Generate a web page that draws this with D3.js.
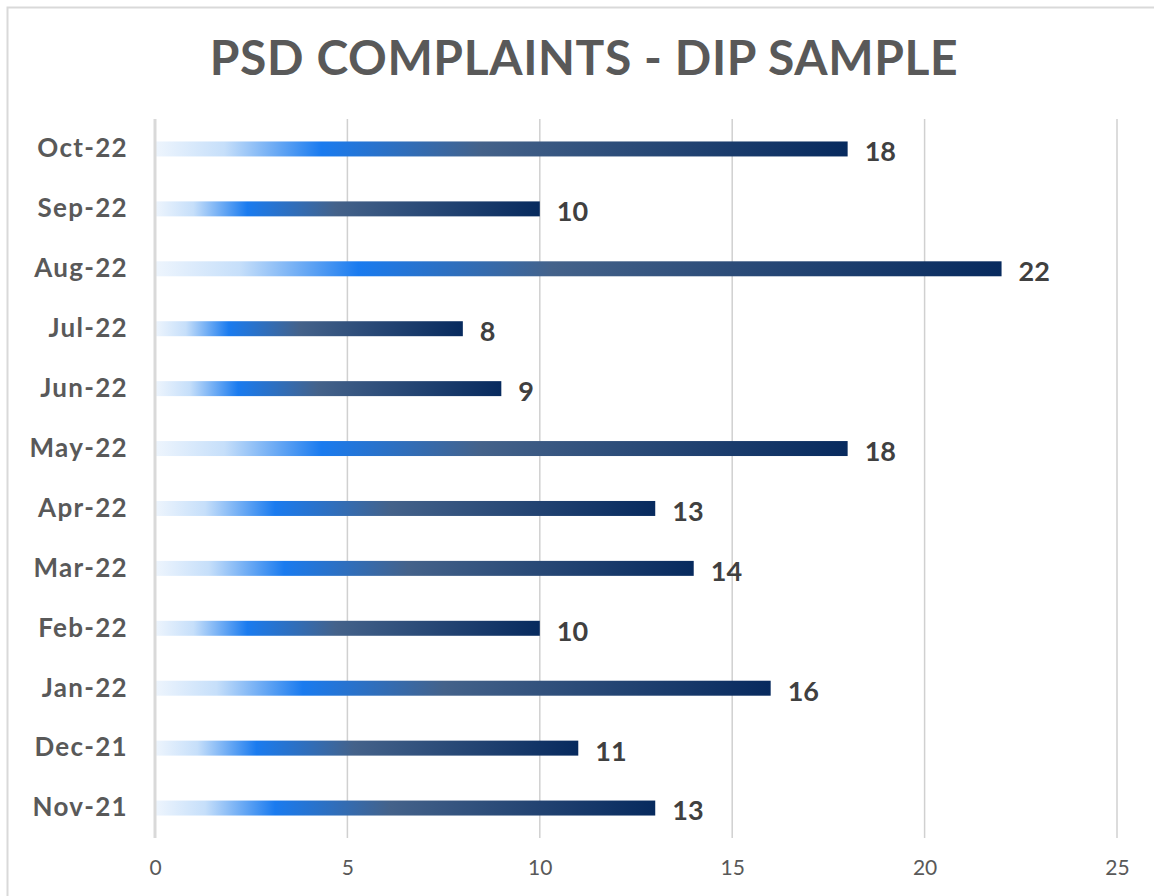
<!DOCTYPE html>
<html>
<head>
<meta charset="utf-8">
<script src="https://cdn.jsdelivr.net/npm/d3@7"></script>
<style>
  body { margin: 0; background: #fff; }
</style>
</head>
<body>
<div id="chart"></div>
<script>
// -------------------- DATA --------------------
const months = ["Oct-22", "Sep-22", "Aug-22", "Jul-22", "Jun-22", "May-22",
                "Apr-22", "Mar-22", "Feb-22", "Jan-22", "Dec-21", "Nov-21"];
const complaints = [18, 10, 22, 8, 9, 18, 13, 14, 10, 16, 11, 13];
const xTicks = [0, 5, 10, 15, 20, 25];
const title = "PSD COMPLAINTS - DIP SAMPLE";

// -------------------- CHART --------------------
const width = 1154, height = 896;
const margin = { top: 119, right: 37, bottom: 58, left: 155 };
const fontFamily = "Lato, 'Open Sans', sans-serif";

const data = months.map((m, i) => ({ name: m, value: complaints[i] }));

const svg = d3.select("#chart")
    .append("svg")
    .attr("width", width)
    .attr("height", height)
    .attr("viewBox", [0, 0, width, height]);

// chart frame (only top and left edges are in view)
svg.append("path")
    .attr("d", `M7.5,${height} V7.5 H${width}`)
    .attr("fill", "none")
    .attr("stroke", "#d9d9d9")
    .attr("stroke-width", 2);

svg.append("text")
    .attr("x", 584)
    .attr("y", 75)
    .attr("text-anchor", "middle")
    .attr("font-family", fontFamily)
    .attr("font-weight", "bold")
    .attr("font-size", 48)
    .attr("letter-spacing", 0.6)
    .attr("fill", "#595959")
    .text(title);

let x = d3.scaleLinear()
    .domain([0, 25])
    .range([margin.left, width - margin.right]);
let y = d3.scaleBand()
    .domain(months)
    .range([margin.top, height - margin.bottom])
    .paddingInner(0.75)
    .paddingOuter(0.375);

// gradient, stops relative to each bar's length
const defs = svg.append("defs");
const grad = defs.append("linearGradient")
    .attr("id", "barGrad")
    .attr("x1", "0%").attr("x2", "100%")
    .attr("y1", "0%").attr("y2", "0%");
[[0, "#eef5fd"], [0.1, "#c6dffa"], [0.24, "#1a7bef"], [0.47, "#44628a"], [1, "#072a5e"]]
    .forEach(([o, c]) => grad.append("stop").attr("offset", o).attr("stop-color", c));

// gridlines
svg.append("g")
    .selectAll("line")
    .data(xTicks.slice(1))
    .join("line")
    .attr("x1", d => x(d)).attr("x2", d => x(d))
    .attr("y1", margin.top).attr("y2", height - margin.bottom)
    .attr("stroke", "#d0d0d0")
    .attr("stroke-width", 1.5);

// bars
svg.append("g")
    .selectAll("rect")
    .data(data)
    .join("rect")
    .attr("fill", "url(#barGrad)")
    .attr("x", x(0))
    .attr("y", d => y(d.name))
    .attr("width", d => x(d.value) - x(0))
    .attr("height", y.bandwidth());

// vertical axis line
svg.append("line")
    .attr("x1", x(0)).attr("x2", x(0))
    .attr("y1", margin.top).attr("y2", height - margin.bottom)
    .attr("stroke", "#d9d9d9")
    .attr("stroke-width", 3);

// value labels
svg.append("g")
    .attr("font-family", fontFamily)
    .attr("font-weight", "bold")
    .attr("font-size", 27)
    .attr("fill", "#404040")
    .selectAll("text")
    .data(data)
    .join("text")
    .attr("x", d => x(d.value) + 17)
    .attr("y", d => y(d.name) + y.bandwidth() / 2 + 3)
    .attr("dy", "0.35em")
    .text(d => d.value);

// y axis labels
let yAxis = g => g
    .attr("transform", `translate(${margin.left},0)`)
    .call(d3.axisLeft(y).tickSize(0).tickPadding(27))
    .call(g => g.select(".domain").remove())
    .call(g => g.selectAll("text")
        .attr("font-family", fontFamily)
        .attr("font-weight", "bold")
        .attr("font-size", 26)
        .attr("letter-spacing", 1.3)
        .attr("fill", "#595959"));

// x axis labels
let xAxis = g => g
    .attr("transform", `translate(0,${height - margin.bottom})`)
    .call(d3.axisBottom(x).tickValues(xTicks).tickSize(0).tickPadding(22))
    .call(g => g.select(".domain").remove())
    .call(g => g.selectAll("text")
        .attr("font-family", fontFamily)
        .attr("font-size", 21)
        .attr("fill", "#595959"));

svg.append("g").call(yAxis);
svg.append("g").call(xAxis);
</script>
</body>
</html>
